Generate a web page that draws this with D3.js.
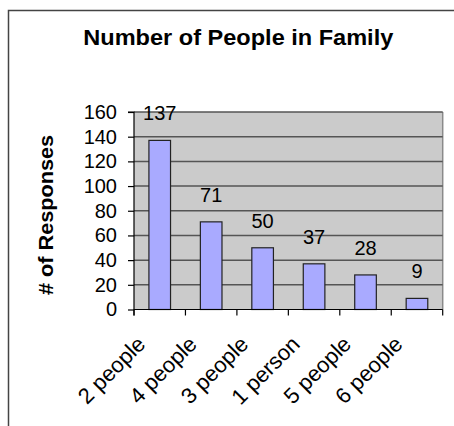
<!DOCTYPE html>
<html>
<head>
<meta charset="utf-8">
<script src="https://cdn.jsdelivr.net/npm/d3@7"></script>
<style>
  html, body { margin: 0; padding: 0; background: #fff; }
  svg { display: block; font-family: "Liberation Sans", Arial, sans-serif; }
</style>
</head>
<body>
<svg id="chart" width="454" height="426"></svg>
<script>
// Survey: household size
const categories = ["2 people", "4 people", "3 people", "1 person", "5 people", "6 people"];
const responses = [137, 71, 50, 37, 28, 9];
const yTicks = [0, 20, 40, 60, 80, 100, 120, 140, 160];

const svg = d3.select("#chart");

// outer chart frame (runs off the right and bottom edges)
svg.append("rect")
  .attr("x", 8.5).attr("y", 10.5)
  .attr("width", 460).attr("height", 430)
  .attr("fill", "#fff")
  .attr("stroke", "#444").attr("stroke-width", 1.5);

const plot = { left: 134, right: 442.7, top: 112, bottom: 309.5 };

const x = d3.scaleBand()
  .domain(categories)
  .range([plot.left, plot.right])
  .paddingInner(0.58)
  .paddingOuter(0.29);

const xCat = d3.scaleBand()
  .domain(categories)
  .range([plot.left, plot.right])
  .padding(0);

const y = d3.scaleLinear()
  .domain([0, 160])
  .range([plot.bottom, plot.top]);

// plot area background
svg.append("rect")
  .attr("x", plot.left).attr("y", plot.top)
  .attr("width", plot.right - plot.left)
  .attr("height", plot.bottom - plot.top)
  .attr("fill", "#cbcbcb");

// right border of plot area
svg.append("line")
  .attr("x1", plot.right).attr("x2", plot.right)
  .attr("y1", plot.top).attr("y2", plot.bottom)
  .attr("stroke", "#8a8a8a").attr("stroke-width", 1.5);

// horizontal gridlines
svg.append("g")
  .selectAll("line")
  .data(yTicks.filter(t => t > 0))
  .join("line")
  .attr("x1", plot.left).attr("x2", plot.right)
  .attr("y1", d => y(d)).attr("y2", d => y(d))
  .attr("stroke", "#555").attr("stroke-width", 1.5);

// bars
svg.append("g")
  .selectAll("rect")
  .data(responses)
  .join("rect")
  .attr("x", (d, i) => x(categories[i]))
  .attr("y", d => y(d))
  .attr("width", x.bandwidth())
  .attr("height", d => y(0) - y(d))
  .attr("fill", "#a9aaff")
  .attr("stroke", "#222")
  .attr("stroke-width", 1.2);

// value labels
svg.append("g")
  .selectAll("text")
  .data(responses)
  .join("text")
  .attr("x", (d, i) => x(categories[i]) + x.bandwidth() / 2)
  .attr("y", d => y(d) - 20)
  .attr("text-anchor", "middle")
  .attr("font-size", 20)
  .attr("fill", "#000")
  .text(d => d);

// y axis
const yAxis = d3.axisLeft(y).tickValues(yTicks).tickSize(6).tickPadding(11);
const gy = svg.append("g")
  .attr("transform", `translate(${plot.left},0)`)
  .call(yAxis);
gy.select(".domain").attr("stroke", "#000").attr("stroke-width", 1.2)
  .attr("d", `M-6,${plot.top}H0V${plot.bottom + 6}`);
gy.selectAll(".tick line").attr("stroke", "#000").attr("stroke-width", 1.2);
gy.selectAll(".tick text")
  .attr("font-size", 20)
  .attr("font-family", "Liberation Sans, Arial, sans-serif")
  .attr("fill", "#000");

// x axis with ticks at category boundaries
const gx = svg.append("g");
gx.append("line")
  .attr("x1", plot.left).attr("x2", plot.right)
  .attr("y1", plot.bottom).attr("y2", plot.bottom)
  .attr("stroke", "#000").attr("stroke-width", 1.2);
gx.selectAll("line.tick")
  .data(categories.concat(["end"]))
  .join("line")
  .attr("class", "tick")
  .attr("x1", (d, i) => i < categories.length ? xCat(d) : plot.right)
  .attr("x2", (d, i) => i < categories.length ? xCat(d) : plot.right)
  .attr("y1", plot.bottom).attr("y2", plot.bottom + 6)
  .attr("stroke", "#000").attr("stroke-width", 1.2);

// rotated category labels
gx.selectAll("text")
  .data(categories)
  .join("text")
  .attr("transform", d => {
    const cx = xCat(d) + xCat.bandwidth() / 2;
    return `translate(${cx - 13},${plot.bottom + 36}) rotate(-45)`;
  })
  .attr("text-anchor", "end")
  .attr("font-size", 22)
  .attr("fill", "#000")
  .text(d => d);

// chart title
svg.append("text")
  .attr("x", 238.3).attr("y", 45)
  .attr("text-anchor", "middle")
  .attr("font-size", 22)
  .attr("font-weight", "bold")
  .attr("textLength", 310)
  .attr("lengthAdjust", "spacingAndGlyphs")
  .text("Number of People in Family");

// y axis title
svg.append("text")
  .attr("transform", "translate(53,215) rotate(-90)")
  .attr("text-anchor", "middle")
  .attr("font-size", 20)
  .attr("font-weight", "bold")
  .attr("textLength", 160)
  .attr("lengthAdjust", "spacingAndGlyphs")
  .text("# of Responses");
</script>
</body>
</html>
